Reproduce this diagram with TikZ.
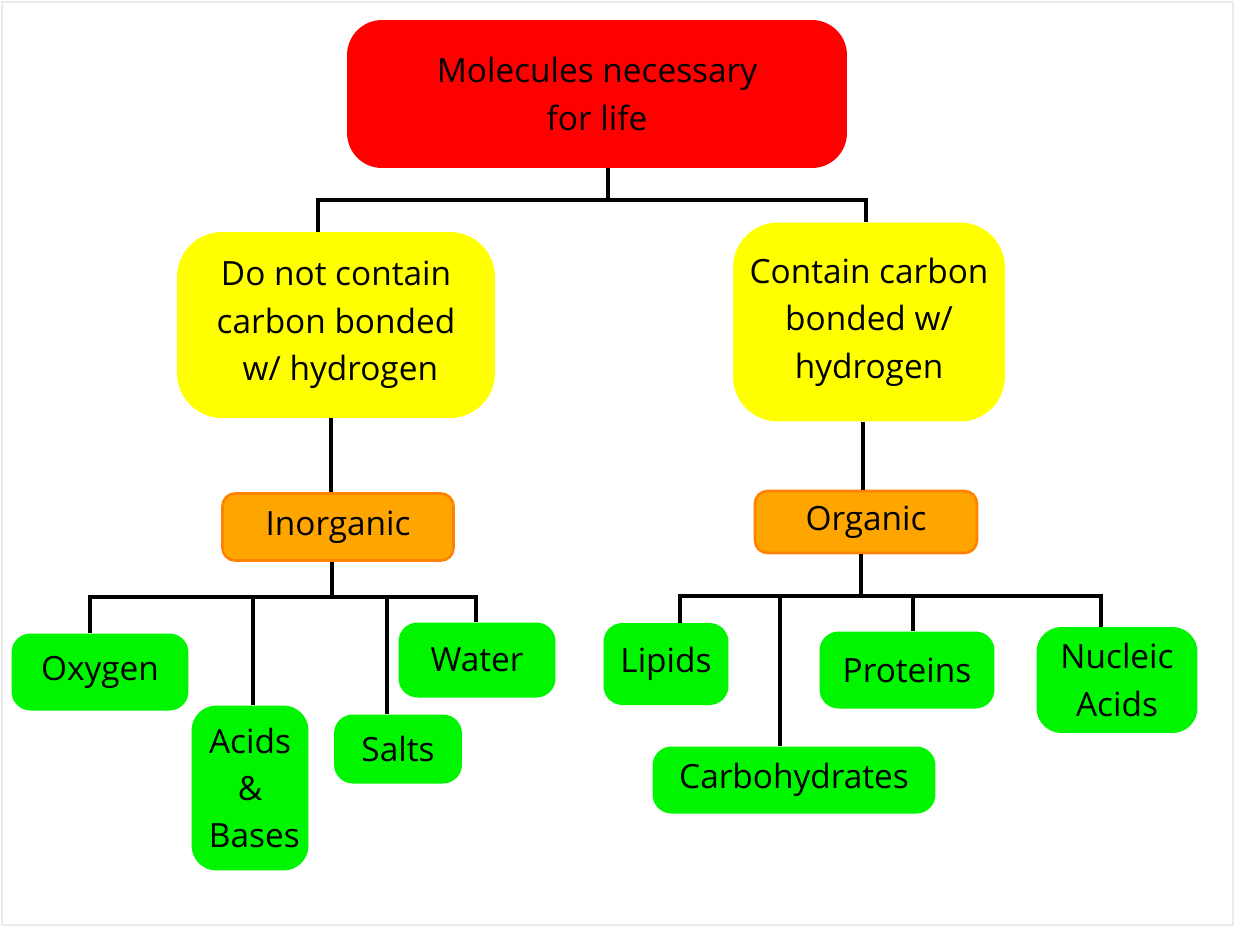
\documentclass[tikz,border=0pt]{standalone}
\usepackage{fontspec}
\setmainfont{Open Sans}
\definecolor{boxred}{RGB}{255,0,0}
\definecolor{boxyellow}{RGB}{255,255,0}
\definecolor{boxorange}{RGB}{255,165,0}
\definecolor{edgeorange}{RGB}{255,130,0}
\definecolor{boxgreen}{RGB}{0,245,0}
\tikzset{
  box/.style = {align = center, inner sep = 0pt, font = \fontsize{19}{27}\selectfont},
  topbox/.style = {box, fill = boxred, rounded corners = 0.7cm},
  groupbox/.style = {box, fill = boxyellow, rounded corners = 0.9cm},
  classbox/.style = {box, fill = boxorange, draw = edgeorange, line width = 1.5pt, rounded corners = 0.25cm},
  itembox/.style = {box, fill = boxgreen, rounded corners = 0.38cm},
  link/.style = {draw = black, line width = 2.6pt}
}
\begin{document}
\begin{tikzpicture}[x = 0.02cm, y = -0.02cm]
\pgfmathsetlengthmacro\px{0.02cm};
\useasboundingbox (0,0) rectangle (1235,927);
\draw[color = black!8, line width = 0.6pt] (2,2) rectangle (1233,925);
\node[topbox, minimum width = 10cm, minimum height = 2.96cm] (life) at (597,94) {Molecules necessary\\for life};
\node[groupbox, minimum width = 6.36cm, minimum height = 3.72cm] (nocarbon) at (336,325) {Do not contain\\carbon bonded\\\ w/ hydrogen};
\node[groupbox, minimum width = 5.44cm, minimum height = 3.98cm] (carbon) at (869,322) {Contain carbon\\bonded w/\\hydrogen};
\node[classbox, minimum width = 4.62cm, minimum height = 1.34cm] (inorg) at (338,527) {Inorganic};
\node[classbox, minimum width = 4.44cm, minimum height = 1.24cm] (org) at (866,522) {Organic};
\node[itembox, minimum width = 3.54cm, minimum height = 1.54cm] (oxygen) at (100,672) {Oxygen};
\node[itembox, minimum width = 2.34cm, minimum height = 3.3cm, rounded corners = 0.5cm] (acids) at (250,788) {Acids\\\&\\\ Bases};
\node[itembox, minimum width = 2.56cm, minimum height = 1.38cm] (salts) at (398,749) {Salts};
\node[itembox, minimum width = 3.14cm, minimum height = 1.5cm] (water) at (477,660) {Water};
\node[itembox, minimum width = 2.5cm, minimum height = 1.64cm] (lipids) at (666,664) {Lipids};
\node[itembox, minimum width = 5.66cm, minimum height = 1.34cm] (carbs) at (794,780) {Carbohydrates};
\node[itembox, minimum width = 3.5cm, minimum height = 1.54cm] (proteins) at (907,670) {Proteins};
\node[itembox, minimum width = 3.22cm, minimum height = 2.12cm, rounded corners = 0.5cm] (nucleic) at (1117,680) {Nucleic\\Acids};
\coordinate (jtop) at (608,200);
\coordinate (jinorg) at (332,597);
\coordinate (jorg) at (861,596);
\draw[link] ([xshift = 11*\px]life.south) -- (jtop);
\foreach \n/\dx in {nocarbon/-18, carbon/-3} \draw[link] ([xshift = \dx*\px]\n.north) |- (jtop);
\draw[link] ([xshift = -5*\px]nocarbon.south) -- ([xshift = -5*\px]nocarbon.south |- inorg.north);
\draw[link] ([xshift = -6*\px]carbon.south) -- ([xshift = -6*\px]carbon.south |- org.north);
\draw[link] (inorg.south -| jinorg) -- (jinorg);
\draw[link] (org.south -| jorg) -- (jorg);
\foreach \n/\dx in {oxygen/-10, acids/3, salts/-11, water/-1} \draw[link] ([xshift = \dx*\px]\n.north) |- (jinorg);
\foreach \n/\dx in {lipids/14, carbs/-14, proteins/6, nucleic/-16} \draw[link] ([xshift = \dx*\px]\n.north) |- (jorg);
\end{tikzpicture}
\end{document}
